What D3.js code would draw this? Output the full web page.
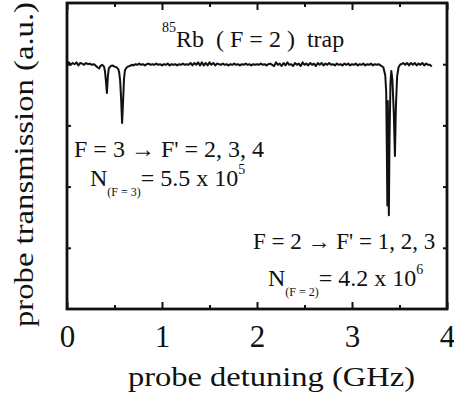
<!DOCTYPE html>
<html>
<head>
<meta charset="utf-8">
<script src="https://cdn.jsdelivr.net/npm/d3@7"></script>
<style>
  body { margin: 0; background: #fff; }
  svg text { font-family: "Liberation Serif", "Times New Roman", serif; fill: #111; }
</style>
</head>
<body>
<svg id="chart" width="454" height="398"></svg>
<script>
// probe scan (GHz, a.u.)
const detuning = [0.00,0.02,0.04,0.06,0.08,0.10,0.12,0.14,0.16,0.18,0.20,0.22,0.24,0.26,0.28,0.30,
  0.32,0.34,0.35,0.37,0.39,0.40,0.41,0.42,0.43,0.44,0.46,0.48,0.50,0.52,0.54,0.55,0.56,0.57,0.58,0.59,0.60,0.61,0.63,
  0.64,0.66,0.68,0.70,0.72,0.74,0.76,0.78,0.80,0.82,0.84,0.86,0.88,0.90,
  0.92,0.94,0.96,0.98,1.00,1.02,1.04,1.06,1.08,1.10,1.12,1.14,1.16,1.18,
  1.20,1.22,1.24,1.26,1.28,1.30,1.32,1.34,1.36,1.38,1.40,1.42,1.44,1.46,
  1.48,1.50,1.52,1.54,1.56,1.58,1.60,1.62,1.64,1.66,1.68,1.70,1.72,1.74,
  1.76,1.78,1.80,1.82,1.84,1.86,1.88,1.90,1.92,1.94,1.96,1.98,2.00,2.02,
  2.04,2.06,2.08,2.10,2.12,2.14,2.16,2.18,2.20,2.22,2.24,2.26,2.28,2.30,
  2.32,2.34,2.36,2.38,2.40,2.42,2.44,2.46,2.48,2.50,2.52,2.54,2.56,2.58,
  2.60,2.62,2.64,2.66,2.68,2.70,2.72,2.74,2.76,2.78,2.80,2.82,2.84,2.86,
  2.88,2.90,2.92,2.94,2.96,2.98,3.00,3.02,3.04,3.06,3.08,3.10,3.12,3.14,
  3.16,3.18,3.20,3.22,3.24,3.26,3.28,3.30,
  3.33,3.35,3.36,3.368,3.372,3.377,3.382,3.388,3.395,3.405,3.414,3.425,3.44,3.452,3.462,3.475,3.49,3.51,
  3.52,3.54,3.56,3.58,3.60,3.62,3.64,3.66,3.68,3.70,3.72,3.74,3.76,3.78,3.80,3.82,3.84]
const transmission = [4.01,4.03,3.99,4.02,4.00,4.03,3.98,4.02,4.01,3.99,4.02,4.00,4.01,3.99,4.00,3.98,
  3.95,3.93,3.97,3.99,3.96,3.88,3.72,3.53,3.80,3.93,3.97,3.98,3.96,3.95,3.92,3.86,3.72,3.42,3.04,3.38,3.76,3.90,3.95,
  3.96,3.97,3.99,3.98,4.00,3.99,4.01,3.99,4.00,3.98,4.00,4.01,3.99,4.00,
  3.99,4.01,3.99,4.00,3.98,4.00,3.99,4.01,3.98,4.00,3.99,4.00,3.98,4.00,
  3.99,4.01,3.99,4.00,3.99,4.02,3.98,4.02,3.99,4.03,3.98,4.03,3.98,4.02,
  3.98,4.03,3.99,4.02,3.98,4.01,4.00,3.99,4.01,3.99,4.00,3.98,4.00,3.99,
  4.01,3.99,4.00,3.98,4.00,3.99,4.01,3.99,4.00,3.98,4.00,3.99,4.00,3.99,
  4.01,3.99,4.00,3.98,4.00,4.01,3.99,3.97,4.03,3.99,4.01,3.97,4.02,3.98,
  4.03,3.99,4.00,3.97,4.02,3.99,4.01,3.97,4.03,3.99,4.01,3.98,4.02,3.99,
  4.01,3.97,4.02,3.99,4.02,3.98,4.01,3.99,4.02,3.99,4.00,3.98,4.01,3.99,
  4.00,3.98,4.01,3.99,4.01,3.98,4.00,3.99,4.01,3.98,4.00,3.99,4.01,3.98,
  4.00,3.99,4.01,3.98,4.00,3.99,4.00,3.98,
  3.95,3.82,3.55,2.40,1.69,3.40,2.40,1.53,2.80,3.70,3.89,3.75,3.20,2.50,3.30,3.80,3.95,4.00,
  4.00,4.02,3.99,4.02,3.98,4.02,3.99,4.02,3.98,4.01,3.99,4.02,3.98,4.01,3.99,3.99,3.96]

const xMajorTicks = [0, 1, 2, 3, 4]
const xMinorTicks = [0.5, 1.5, 2.5, 3.5]
const yTicks = [1, 2, 3, 4]

const svg = d3.select('#chart')
const plotL = 67, plotR = 447, plotT = 3, plotB = 309

const x = d3.scaleLinear().domain([0, 4]).range([plotL, plotR])
const y = d3.scaleLinear().domain([0, 5]).range([plotB, plotT])

// inward ticks on all four sides
function tickAxis(axis, scale, vals, size, tx, ty) {
    const g = svg.append('g')
        .attr('transform', `translate(${tx},${ty})`)
        .call(axis(scale).tickValues(vals).tickSize(size).tickFormat(''))
    g.select('.domain').remove()
    g.selectAll('line').attr('stroke', '#111').attr('stroke-width', 2)
    return g
}
tickAxis(d3.axisBottom, x, xMajorTicks, -7, 0, plotB)
tickAxis(d3.axisBottom, x, xMinorTicks, -4, 0, plotB)
tickAxis(d3.axisTop, x, xMajorTicks, -7, 0, plotT)
tickAxis(d3.axisTop, x, xMinorTicks, -4, 0, plotT)
tickAxis(d3.axisLeft, y, yTicks, -4, plotL, 0)
tickAxis(d3.axisRight, y, yTicks, -4, plotR, 0)

// tick labels
const xLab = svg.append('g')
    .attr('transform', `translate(0,${plotB})`)
    .call(d3.axisBottom(x).tickValues(xMajorTicks).tickSize(0).tickPadding(16).tickFormat(d3.format('d')))
xLab.select('.domain').remove()
xLab.selectAll('text').style('font-size', '31px').attr('fill', '#111')
    .style('font-family', '"Liberation Serif", serif')

svg.append('rect')
    .attr('x', plotL).attr('y', plotT)
    .attr('width', plotR - plotL).attr('height', plotB - plotT)
    .attr('fill', 'none').attr('stroke', '#111').attr('stroke-width', 2.8)

const line = d3.line()
    .x((d, i) => x(detuning[i]))
    .y(d => y(d))

svg.append('path')
    .datum(transmission)
    .attr('d', line)
    .attr('fill', 'none')
    .attr('stroke', '#111')
    .attr('stroke-width', 2)
    .attr('stroke-linejoin', 'round')

// axis titles
svg.append('text')
    .attr('x', 128).attr('y', 386)
    .attr('textLength', 287).attr('lengthAdjust', 'spacingAndGlyphs')
    .style('font-size', '27px')
    .text('probe detuning (GHz)')

svg.append('text')
    .attr('transform', 'translate(33,327) rotate(-90)')
    .attr('textLength', 325).attr('lengthAdjust', 'spacingAndGlyphs')
    .style('font-size', '27px')
    .text('probe transmission (a.u.)')

// title
const title = svg.append('text').attr('x', 162).attr('y', 47).style('font-size', '24px')
title.append('tspan').style('font-size', '14px').attr('dy', -15).text('85')
title.append('tspan').attr('dy', 15).text('Rb\u00a0 ( F = 2 )\u00a0 trap')

// transitions
svg.append('text').attr('x', 74).attr('y', 157).style('font-size', '24px')
    .text("F = 3 \u2192 F' = 2, 3, 4")
svg.append('text').attr('x', 253).attr('y', 249).style('font-size', '23px')
    .text("F = 2 \u2192 F' = 1, 2, 3")

function atomNumber(x0, y0, sub, val, exp) {
    const t = svg.append('text').attr('x', x0).attr('y', y0).style('font-size', '24px')
    t.append('tspan').text('N')
    t.append('tspan').style('font-size', '12px').attr('dy', 10).text(sub)
    t.append('tspan').attr('dy', -10).text('= ' + val + ' x 10')
    t.append('tspan').style('font-size', '14px').attr('dy', -12).text(exp)
}
atomNumber(90, 186, '(F = 3)', '5.5', '5')
atomNumber(268, 286, '(F = 2)', '4.2', '6')
</script>
</body>
</html>
